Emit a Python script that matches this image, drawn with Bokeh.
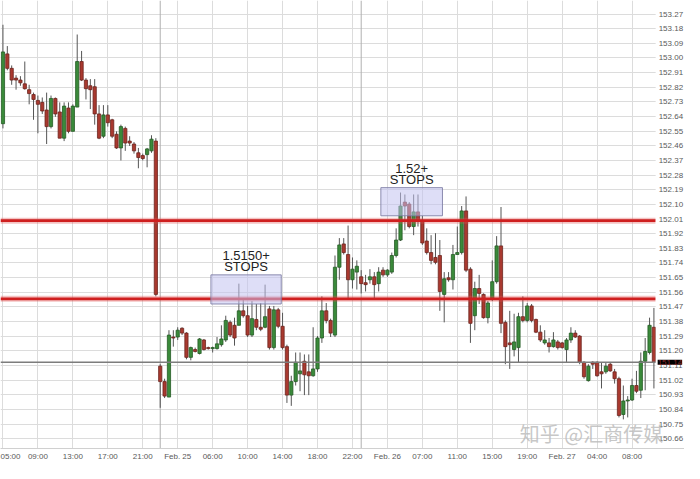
from bokeh.plotting import figure
from bokeh.models import ColumnDataSource, FixedTicker, Span, Label, BoxAnnotation, Range1d
from bokeh.core.properties import value
from bokeh.embed import file_html
from bokeh.resources import INLINE

# ---------------- data (30-minute bars) ----------------
opens = [152.596, 153.025, 152.936, 152.876, 152.864, 152.841, 152.805, 152.775, 152.739, 152.727,
         152.680, 152.578, 152.751, 152.668, 152.507, 152.692, 152.549, 152.698, 152.978, 152.864,
         152.829, 152.823, 152.656, 152.519, 152.650, 152.620, 152.531, 152.447, 152.567, 152.489,
         152.471, 152.417, 152.400, 152.406, 152.429, 152.489, 151.106, 151.011, 150.916, 151.285,
         151.285, 151.339, 151.309, 151.160, 151.208, 151.184, 151.267, 151.220, 151.214, 151.214,
         151.238, 151.267, 151.375, 151.357, 151.357, 151.446, 151.416, 151.297, 151.393, 151.345,
         151.345, 151.458, 151.220, 151.452, 151.351, 151.226, 150.928, 151.011, 151.059, 151.136,
         151.071, 151.047, 151.089, 151.279, 151.446, 151.387, 151.297, 151.714, 151.857, 151.792,
         151.637, 151.684, 151.655, 151.619, 151.637, 151.655, 151.613, 151.696, 151.667, 151.684,
         151.786, 151.881, 152.114, 152.102, 151.964, 152.054, 152.000, 151.875, 151.804, 151.774,
         151.786, 151.547, 151.649, 151.637, 151.792, 151.804, 152.060, 151.702, 151.416, 151.583,
         151.547, 151.404, 151.518, 151.625, 151.845, 151.375, 151.249, 151.208, 151.220, 151.410,
         151.387, 151.476, 151.393, 151.315, 151.249, 151.249, 151.226, 151.255, 151.249, 151.208,
         151.267, 151.309, 151.291, 151.130, 151.017, 151.130, 151.130, 151.071, 151.071, 151.118,
         151.071, 151.029, 150.809, 150.892, 150.898, 150.987, 150.958, 151.136, 151.190, 151.345]
highs = [153.204, 153.073, 152.954, 152.894, 152.888, 152.978, 152.835, 152.787, 152.769, 152.757,
         152.787, 152.769, 152.757, 152.727, 152.727, 152.727, 152.715, 153.144, 153.043, 152.876,
         152.870, 152.870, 152.710, 152.710, 152.710, 152.626, 152.549, 152.590, 152.578, 152.519,
         152.483, 152.447, 152.412, 152.447, 152.525, 152.507, 151.118, 151.029, 151.327, 151.327,
         151.345, 151.345, 151.315, 151.226, 151.220, 151.279, 151.273, 151.226, 151.226, 151.285,
         151.357, 151.416, 151.387, 151.404, 151.613, 151.518, 151.476, 151.506, 151.488, 151.494,
         151.607, 151.476, 151.476, 151.464, 151.434, 151.238, 151.047, 151.190, 151.190, 151.178,
         151.178, 151.345, 151.291, 151.535, 151.494, 151.398, 151.786, 151.893, 151.893, 151.970,
         151.774, 151.756, 151.696, 151.667, 151.702, 151.684, 151.714, 151.714, 151.702, 151.804,
         151.953, 152.173, 152.161, 152.114, 152.161, 152.161, 152.030, 151.953, 151.911, 151.923,
         151.881, 151.684, 151.684, 151.851, 151.964, 152.090, 152.149, 151.714, 151.625, 151.667,
         151.553, 151.506, 151.756, 151.905, 152.084, 151.387, 151.446, 151.428, 151.434, 151.535,
         151.494, 151.488, 151.398, 151.357, 151.327, 151.279, 151.315, 151.267, 151.255, 151.279,
         151.345, 151.327, 151.297, 151.136, 151.118, 151.136, 151.136, 151.130, 151.130, 151.130,
         151.089, 151.041, 150.987, 150.922, 151.029, 151.077, 151.190, 151.279, 151.404, 151.464]
lows = [152.567, 152.924, 152.835, 152.805, 152.829, 152.805, 152.715, 152.620, 152.537, 152.656,
        152.471, 152.567, 152.638, 152.507, 152.489, 152.537, 152.549, 152.698, 152.858, 152.745,
        152.686, 152.590, 152.501, 152.507, 152.578, 152.507, 152.441, 152.370, 152.429, 152.459,
        152.412, 152.322, 152.370, 152.328, 152.417, 151.535, 150.850, 150.910, 150.916, 151.226,
        151.267, 151.297, 151.148, 151.142, 151.190, 151.178, 151.202, 151.208, 151.190, 151.208,
        151.226, 151.255, 151.285, 151.232, 151.357, 151.404, 151.285, 151.285, 151.327, 151.321,
        151.339, 151.208, 151.208, 151.339, 151.208, 150.880, 150.862, 150.987, 150.952, 150.928,
        150.928, 151.041, 151.071, 151.249, 151.369, 151.285, 151.285, 151.637, 151.792, 151.524,
        151.583, 151.577, 151.553, 151.565, 151.613, 151.524, 151.565, 151.655, 151.655, 151.673,
        151.774, 151.875, 151.941, 151.953, 151.911, 151.964, 151.851, 151.792, 151.732, 151.732,
        151.446, 151.375, 151.625, 151.577, 151.792, 151.792, 151.684, 151.249, 151.327, 151.488,
        151.398, 151.369, 151.506, 151.613, 151.309, 151.118, 151.089, 151.166, 151.130, 151.375,
        151.375, 151.375, 151.309, 151.255, 151.238, 151.190, 151.220, 151.208, 151.214, 151.130,
        151.249, 151.279, 151.118, 151.029, 151.011, 151.089, 151.041, 150.969, 151.059, 151.071,
        150.999, 150.791, 150.779, 150.791, 150.892, 150.940, 150.910, 150.958, 151.178, 150.969]
closes = [153.037, 152.936, 152.864, 152.864, 152.847, 152.811, 152.781, 152.745, 152.715, 152.674,
          152.578, 152.751, 152.656, 152.507, 152.704, 152.549, 152.704, 152.978, 152.864, 152.811,
          152.805, 152.656, 152.507, 152.650, 152.602, 152.519, 152.447, 152.578, 152.477, 152.477,
          152.429, 152.388, 152.382, 152.441, 152.501, 151.547, 151.011, 150.922, 151.297, 151.279,
          151.327, 151.309, 151.160, 151.220, 151.196, 151.273, 151.208, 151.214, 151.220, 151.243,
          151.273, 151.387, 151.297, 151.279, 151.446, 151.416, 151.297, 151.398, 151.345, 151.333,
          151.410, 151.220, 151.452, 151.351, 151.220, 150.928, 151.011, 151.130, 151.077, 151.053,
          151.047, 151.089, 151.279, 151.446, 151.387, 151.309, 151.714, 151.851, 151.804, 151.637,
          151.702, 151.720, 151.613, 151.607, 151.655, 151.607, 151.684, 151.667, 151.696, 151.786,
          151.881, 152.090, 152.090, 151.964, 152.054, 152.000, 151.863, 151.804, 151.756, 151.744,
          151.565, 151.643, 151.637, 151.792, 151.804, 152.060, 151.696, 151.369, 151.583, 151.553,
          151.404, 151.494, 151.625, 151.845, 151.369, 151.226, 151.238, 151.255, 151.410, 151.387,
          151.476, 151.387, 151.315, 151.267, 151.267, 151.226, 151.267, 151.220, 151.220, 151.267,
          151.309, 151.285, 151.130, 151.041, 151.106, 151.118, 151.047, 151.059, 151.106, 151.077,
          151.029, 150.803, 150.892, 150.898, 150.987, 150.952, 151.136, 151.196, 151.357, 151.130]

time_ticks = [0, 8, 16, 24, 32, 40, 48, 56, 64, 72, 80, 88, 96, 104, 112, 120, 128, 136, 144]
time_labels = ["05:00", "09:00", "13:00", "17:00", "21:00", "Feb. 25", "06:00", "10:00", "14:00",
               "18:00", "22:00", "Feb. 26", "07:00", "11:00", "15:00", "19:00", "Feb. 27", "04:00", "08:00"]
session_breaks = [36, 82]

price_ticks = [round(150.66 + 0.09 * k, 2) for k in range(30)]
price_labels = ["%.2f" % t for t in price_ticks]

stop_levels = [151.52, 152.00]
last_price = 151.13
last_price_text = "151.14"

zone_left = [47.6, 86.5]
zone_right = [63.7, 100.6]
zone_bottom = [151.488, 152.030]
zone_top = [151.667, 152.203]
zone_line1 = ["1.5150+", "1.52+"]
zone_line2 = ["STOPS", "STOPS"]

watermark = "知乎 @汇商传媒"

# ---------------- layout constants ----------------
X0, XC, XE = -0.56, 149.4, 156.0       # plot start, end of candle area, end incl. price scale
Y0, Y1 = 150.60, 153.353

n = len(opens)
idx = list(range(n))
up = [c >= o for o, c in zip(opens, closes)]
src = ColumnDataSource(dict(
    x=idx, o=opens, h=highs, l=lows, c=closes,
    top=[max(o, c) for o, c in zip(opens, closes)],
    bot=[min(o, c) for o, c in zip(opens, closes)],
    fill=["#3a8a3a" if u else "#a9392f" for u in up],
    edge=["#255a25" if u else "#6c241e" for u in up],
))

p = figure(width=684, height=463, output_backend="svg", toolbar_location=None,
           x_range=Range1d(X0, XE), y_range=Range1d(Y0, Y1),
           min_border_left=0, min_border_right=0, min_border_top=0, min_border_bottom=0)
p.outline_line_color = None
p.yaxis.visible = False

# grid
p.xgrid.ticker = FixedTicker(ticks=time_ticks)
p.ygrid.ticker = FixedTicker(ticks=price_ticks)
p.xgrid.grid_line_color = "#dcdcdc"
p.ygrid.grid_line_color = "#dcdcdc"

for b in session_breaks:
    p.add_layout(Span(location=b, dimension="height", line_color="#b0b0b0", line_width=1, level="underlay"))

# candles
p.segment(x0="x", y0="l", x1="x", y1="h", source=src, line_color="#555555", line_width=1)
p.vbar(x="x", width=0.74, top="top", bottom="bot", source=src,
       fill_color="fill", line_color="edge", line_width=0.8)

# current price line
p.segment(x0=[X0], y0=[last_price], x1=[XC], y1=[last_price], line_color="#7d7d7d", line_width=1.6)

# stop levels (red lines with soft halo)
n_lv = len(stop_levels)
p.segment(x0=[X0] * n_lv, y0=stop_levels, x1=[XC] * n_lv, y1=stop_levels,
          line_color="#e05050", line_width=6, line_alpha=0.35)
p.segment(x0=[X0] * n_lv, y0=stop_levels, x1=[XC] * n_lv, y1=stop_levels,
          line_color="#cf1f1f", line_width=2.8)

# price scale panel on the right
p.quad(left=[XC], right=[XE], bottom=[Y0], top=[Y1], fill_color="white", line_color=None)
p.text(x=[XC] * len(price_ticks), y=price_ticks, text=price_labels, x_offset=3,
       text_align="left", text_baseline="middle", text_font=value("Liberation Sans"),
       text_font_size="8px", text_color="#5a5a5a")

# last price tag
p.add_layout(Label(x=XC, y=last_price, x_offset=2, text=last_price_text,
                   text_baseline="middle", text_align="left",
                   text_font="Liberation Sans", text_font_size="8px", text_color="#8a2a2a",
                   background_fill_color="black"))

# stop zones
for i in range(len(zone_left)):
    p.add_layout(BoxAnnotation(left=zone_left[i], right=zone_right[i],
                               bottom=zone_bottom[i], top=zone_top[i],
                               fill_color="#c3c3f0", fill_alpha=0.55,
                               line_color="#7f7fa6", line_width=1, line_alpha=0.9))
    cx = (zone_left[i] + zone_right[i]) / 2
    p.add_layout(Label(x=cx, y=zone_top[i], y_offset=15, text=zone_line1[i],
                       text_align="center", text_baseline="bottom",
                       text_font="Liberation Sans", text_font_size="13px", text_color="#222222"))
    p.add_layout(Label(x=cx, y=zone_top[i], y_offset=1, text=zone_line2[i],
                       text_align="center", text_baseline="bottom",
                       text_font="Liberation Sans", text_font_size="13px", text_color="#222222"))

# x axis
p.xaxis.ticker = FixedTicker(ticks=time_ticks)
p.xaxis.major_label_overrides = {t: s for t, s in zip(time_ticks, time_labels)}
p.xaxis.major_label_text_font = "Liberation Sans"
p.xaxis.major_label_text_font_size = "8px"
p.xaxis.major_label_text_color = "#5a5a5a"
p.xaxis.major_tick_line_color = None
p.xaxis.minor_tick_line_color = None
p.xaxis.major_tick_out = 0
p.xaxis.major_tick_in = 0
p.xaxis.minor_tick_out = 0
p.xaxis.axis_line_color = "#d0d0d0"
p.xaxis.major_label_standoff = 3

# watermark
p.add_layout(Label(x=134.7, y=150.695, text=watermark, text_align="center", text_baseline="middle",
                   text_font="Noto Sans CJK SC", text_font_size="20px",
                   text_color="#bdbdbd", text_alpha=0.85))

open("out.html", "w").write(file_html(p, INLINE))
